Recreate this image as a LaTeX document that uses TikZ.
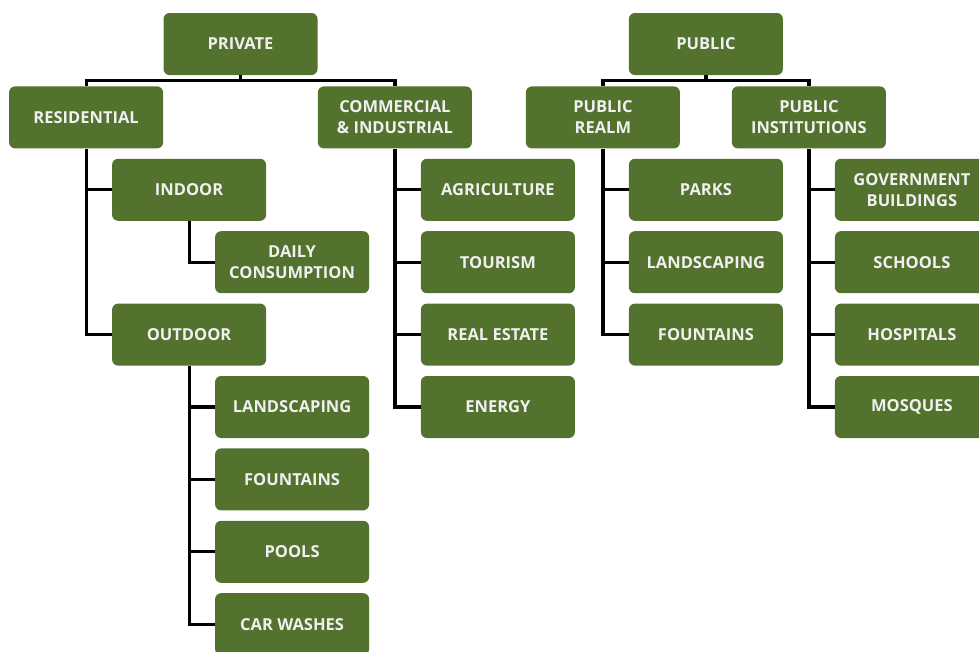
\documentclass[tikz,border=0pt]{standalone}
\usepackage{fontspec}
\setmainfont{Open Sans}
\usetikzlibrary{positioning}

\definecolor{leaf}{RGB}{82,114,46}

\tikzset{
  box/.style={rectangle, rounded corners=6pt, fill=leaf, text=white!94!black,
    font=\fontsize{16.5}{21}\selectfont\bfseries, align=center,
    minimum width=154pt, minimum height=62pt, inner sep=2pt},
  link/.style={draw=black, line width=3.2pt},
}

\begin{document}
\begin{tikzpicture}[x=1pt, y=-1pt, node distance=10pt]
\useasboundingbox (0,0) rectangle (979,651);
\clip (0,0) rectangle (979,651);

% private side
\node (private) [box] at (240.5,44) {PRIVATE};
\node (residential) [box, below left=11pt and 0pt of private] {RESIDENTIAL};
\node (commercial) [box, below right=11pt and 0pt of private] {COMMERCIAL\\\& INDUSTRIAL};

\node (indoor) [box, below=of residential, xshift=103pt] {INDOOR};
\node (daily) [box, below=of indoor, xshift=103pt] {DAILY\\CONSUMPTION};
\node (outdoor) [box, below=of daily, xshift=-103pt] {OUTDOOR};
\node (landscaping) [box, below=of outdoor, xshift=103pt] {LANDSCAPING};
\node (fountains) [box, below=of landscaping] {FOUNTAINS};
\node (pools) [box, below=of fountains] {POOLS};
\node (carwash) [box, below=of pools] {CAR WASHES};

\node (agriculture) [box, below=of commercial, xshift=103pt] {AGRICULTURE};
\node (tourism) [box, below=of agriculture] {TOURISM};
\node (realestate) [box, below=of tourism] {REAL ESTATE};
\node (energy) [box, below=of realestate] {ENERGY};

% public side
\node (public) [box, right=311pt of private] {PUBLIC};
\node (realm) [box, below=11pt of public, xshift=-103pt] {PUBLIC\\REALM};
\node (institutions) [box, below=11pt of public, xshift=103pt] {PUBLIC\\INSTITUTIONS};

\node (parks) [box, below=of realm, xshift=103pt] {PARKS};
\node (plandscaping) [box, below=of parks] {LANDSCAPING};
\node (pfountains) [box, below=of plandscaping] {FOUNTAINS};

\node (government) [box, below=of institutions, xshift=103pt] {GOVERNMENT\\BUILDINGS};
\node (schools) [box, below=of government] {SCHOOLS};
\node (hospitals) [box, below=of schools] {HOSPITALS};
\node (mosques) [box, below=of hospitals] {MOSQUES};

% top level joints
\coordinate (pj) at ([yshift=-5pt]private.south);
\coordinate (uj) at ([yshift=-5pt]public.south);
\draw[link] (private.south) -- (pj);
\draw[link] (residential.north) |- (pj) -| (commercial.north);
\draw[link] (public.south) -- (uj);
\draw[link] (realm.north) |- (uj) -| (institutions.north);

% branches
\draw[link] (residential.south) |- (outdoor.west);
\draw[link] (residential.south |- indoor.west) -- (indoor.west);
\draw[link] (indoor.south) |- (daily.west);
\draw[link] (outdoor.south) |- (carwash.west);
\foreach \n in {landscaping,fountains,pools}
  \draw[link] (outdoor.south |- \n.west) -- (\n.west);

\draw[link] (commercial.south) |- (energy.west);
\foreach \n in {agriculture,tourism,realestate}
  \draw[link] (commercial.south |- \n.west) -- (\n.west);

\draw[link] (realm.south) |- (pfountains.west);
\foreach \n in {parks,plandscaping}
  \draw[link] (realm.south |- \n.west) -- (\n.west);

\draw[link] (institutions.south) |- (mosques.west);
\foreach \n in {government,schools,hospitals}
  \draw[link] (institutions.south |- \n.west) -- (\n.west);
\end{tikzpicture}
\end{document}
